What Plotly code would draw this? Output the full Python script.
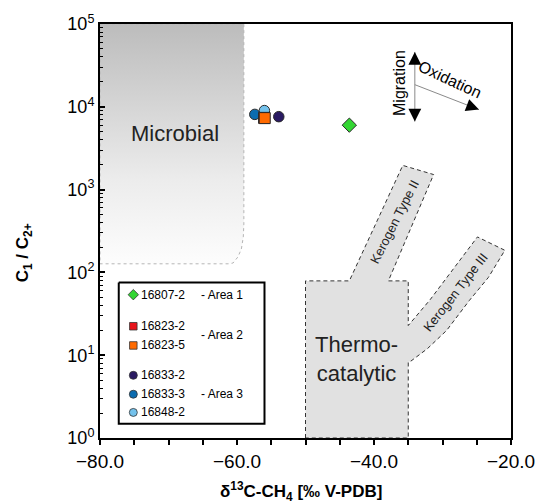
import plotly.graph_objects as go

# ---------------- data ----------------
sample_ids = ["16833-3", "16848-2", "16833-2", "16823-2", "16823-5", "16807-2"]
d13c_ch4 = [-57.4, -56.0, -53.9, -56.05, -55.95, -43.6]      # ‰ V-PDB
c1_c2 = [8100, 9000, 7600, 7350, 7300, 6000]                # C1/C2+
symbols = ["circle", "circle", "circle", "square", "square", "diamond"]
colors = ["#0b6cb0", "#74c2ec", "#2a1a62", "#e8141b", "#ff6a00", "#33d633"]

legend_ids = ["16807-2", "16823-2", "16823-5", "16833-2", "16833-3", "16848-2"]
legend_symbols = ["diamond", "square", "square", "circle", "circle", "circle"]
legend_colors = ["#33d633", "#e8141b", "#ff6a00", "#2a1a62", "#0b6cb0", "#74c2ec"]
area_labels = ["- Area 1", "- Area 2", "- Area 3"]

# genetic fields (Whiticar-type diagram)
microbial_x = [-80, -59.0, -59.0, -59.08, -59.36, -59.86, -60.57, -61.13, -80, -80]
microbial_y = [1e5, 1e5, 384, 268, 192, 154, 130, 127, 127, 1e5]

thermo_x = [-50, -50, -43.6, -35.8, -31.3, -37.9, -35, -35, -31.8, -24.9, -20.9,
            -23.3, -26.1, -29.4, -32.2, -34.6, -35, -35, -50]
thermo_y = [1, 79, 79, 1960, 1520, 79, 79, 22.8, 46.9, 268, 185,
            87, 45.6, 19.9, 12.0, 8.5, 8.26, 1, 1]

x_ticks = [-80, -60, -40, -20]
y_ticks = [1, 10, 100, 1000, 10000, 100000]
y_ticktext = ["10<sup>%d</sup>" % i for i in range(6)]

FONT = "Liberation Sans, Arial, sans-serif"

fig = go.Figure()

# Microbial field with vertical gradient
fig.add_trace(go.Scatter(
    x=microbial_x, y=microbial_y, mode="lines", fill="toself",
    line=dict(color="#b5b5b5", width=1, dash="dot"),
    fillgradient=dict(type="vertical",
                      colorscale=[[0, "#fdfdfd"], [0.35, "#ececec"], [1, "#bcbcbc"]]),
    hoverinfo="skip", showlegend=False))

# Thermocatalytic field + kerogen branches
fig.add_trace(go.Scatter(
    x=thermo_x, y=thermo_y, mode="lines", fill="toself",
    fillcolor="#e1e1e1", line=dict(color="#333333", width=1, dash="4px,3px"),
    hoverinfo="skip", showlegend=False))

# Migration / Oxidation arrow shafts
mig_x = [-34.04, -34.04]
mig_y = [46000, 6640]
oxi_x = [-34.04, -24.68]
oxi_y = [18500, 9250]
for xs, ys in [(mig_x, mig_y), (oxi_x, oxi_y)]:
    fig.add_trace(go.Scatter(x=xs, y=ys, mode="lines",
                             line=dict(color="#8a8a8a", width=1),
                             hoverinfo="skip", showlegend=False))

# samples
for sid, xv, yv, sym, col in zip(sample_ids, d13c_ch4, c1_c2, symbols, colors):
    fig.add_trace(go.Scatter(
        x=[xv], y=[yv], mode="markers", name=sid,
        marker=dict(symbol=sym, size=11 if sym != "circle" else 10.5, color=col,
                    line=dict(color="#2a2a2a", width=1)),
        showlegend=False))

# ---------------- manual legend on overlay axes ----------------
box_x = [4.3, 154.3, 154.3, 4.3, 4.3]
box_y = [3.7, 3.7, 145.7, 145.7, 3.7]
fig.add_trace(go.Scatter(x=box_x, y=box_y, xaxis="x2", yaxis="y2", mode="lines",
                         fill="toself", fillcolor="white",
                         line=dict(color="black", width=2),
                         hoverinfo="skip", showlegend=False))
leg_rows = [16, 47.7, 67, 97, 116, 134.3]
for row, sym, col in zip(leg_rows, legend_symbols, legend_colors):
    fig.add_trace(go.Scatter(x=[19.3], y=[row], xaxis="x2", yaxis="y2", mode="markers",
                             marker=dict(symbol=sym, size=8 if sym != "square" else 7.5,
                                         color=col, line=dict(color="#333", width=0.8)),
                             hoverinfo="skip", showlegend=False))

annotations = []
for row, sid in zip(leg_rows, legend_ids):
    annotations.append(dict(x=25.5, y=row, xref="x2", yref="y2", text=sid,
                            showarrow=False, xanchor="left", yanchor="middle",
                            font=dict(family=FONT, size=12, color="black")))
for row, lab in zip([16, 57, 116], area_labels):
    annotations.append(dict(x=87, y=row, xref="x2", yref="y2", text=lab,
                            showarrow=False, xanchor="left", yanchor="middle",
                            font=dict(family=FONT, size=12, color="black")))

# field labels (annotation y in log10 units)
annotations += [
    dict(x=-69.08, y=3.678, text="Microbial", showarrow=False,
         font=dict(family=FONT, size=22, color="#222")),
    dict(x=-42.55, y=0.95, text="Thermo-<br>catalytic", showarrow=False,
         font=dict(family=FONT, size=22, color="#222")),
    dict(x=-37.02, y=2.62, text="Kerogen Type II", showarrow=False, textangle=-63,
         font=dict(family=FONT, size=13, color="#222")),
    dict(x=-28.13, y=1.758, text="Kerogen Type III", showarrow=False, textangle=-52,
         font=dict(family=FONT, size=13, color="#222")),
    dict(x=-36.31, y=4.291, text="Migration", showarrow=False, textangle=-90,
         font=dict(family=FONT, size=16, color="black")),
    dict(x=-28.94, y=4.327, text="Oxidation", showarrow=False, textangle=25,
         font=dict(family=FONT, size=16, color="black")),
]
# arrow heads
for (xa, ya, ax, ay) in [(-34.04, 4.663, 0, 12), (-34.04, 3.822, 0, -12),
                         (-24.68, 3.966, -11.2, -4.2)]:
    annotations.append(dict(x=xa, y=ya, ax=ax, ay=ay, text="", showarrow=True,
                            arrowhead=2, arrowsize=1.6, arrowwidth=1.6,
                            arrowcolor="black"))

# axis titles
annotations += [
    dict(x=-0.184, y=0.447, xref="paper", yref="paper", textangle=-90,
         xanchor="center", yanchor="middle",
         text="<b>C<sub>1</sub> / C<sub>2+</sub></b>", showarrow=False,
         font=dict(family=FONT, size=17, color="black")),
    dict(x=0.49, y=-0.13, xref="paper", yref="paper",
         xanchor="center", yanchor="middle",
         text="<b>δ<sup>13</sup>C-CH<sub>4</sub> [‰ V-PDB]</b>", showarrow=False,
         font=dict(family=FONT, size=17, color="black")),
]

minor_y = [m * 10 ** k for k in range(5) for m in range(2, 10)]

fig.update_layout(
    width=547, height=504,
    margin=dict(l=100, r=24, t=22, b=66),
    paper_bgcolor="white", plot_bgcolor="white",
    font=dict(family=FONT, color="black"),
    showlegend=False,
    hovermode=False,
    xaxis=dict(range=[-80, -20], tickvals=x_ticks, tickformat=".1f",
               ticks="outside", ticklen=5, tickwidth=1.5, tickcolor="black",
               minor=dict(dtick=5, tick0=-80, ticks="outside", ticklen=5,
                          tickwidth=1.5, tickcolor="black"),
               showline=True, linewidth=2, linecolor="black", mirror=True,
               showgrid=False, zeroline=False, ticklabeloverflow="allow",
               tickfont=dict(family=FONT, size=19, color="black")),
    yaxis=dict(type="log", range=[0, 5], tickvals=y_ticks, ticktext=y_ticktext,
               ticks="inside", ticklen=5, tickwidth=1.5, tickcolor="black",
               minor=dict(tickvals=minor_y, ticks="inside", ticklen=3,
                          tickwidth=1, tickcolor="black"),
               showline=True, linewidth=2, linecolor="black", mirror=True,
               showgrid=False, zeroline=False, ticklabeloverflow="allow",
               tickfont=dict(family=FONT, size=18, color="black")),
    xaxis2=dict(domain=[0.03546, 0.41371], range=[0, 160], anchor="y2",
                visible=False, showgrid=False, zeroline=False),
    yaxis2=dict(domain=[0.02404, 0.38462], range=[150, 0], anchor="x2",
                visible=False, showgrid=False, zeroline=False),
    annotations=annotations,
)

# remove the default 8px page margin so the figure fills the window exactly
fig.write_html("out.html", config={"displayModeBar": False},
               post_script="document.body.style.margin='0';document.body.style.overflow='hidden';")
